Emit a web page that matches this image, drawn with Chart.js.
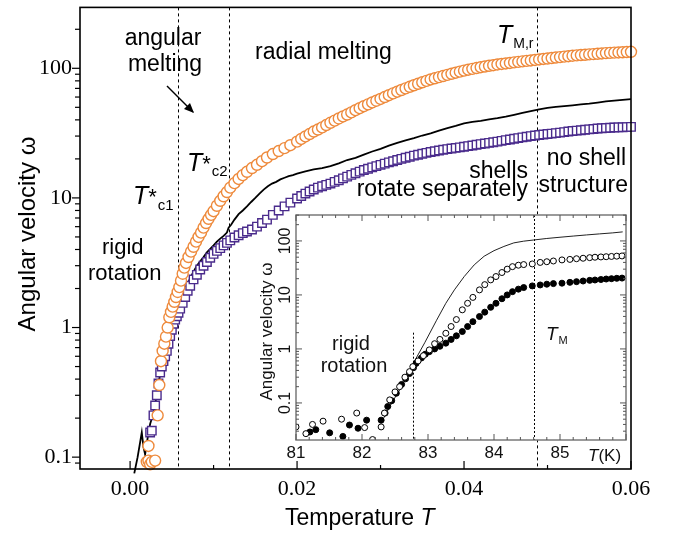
<!DOCTYPE html>
<html>
<head>
<meta charset="utf-8">
<script src="https://cdn.jsdelivr.net/npm/chart.js@4.4.1/dist/chart.umd.min.js"></script>
<style>
  html, body { margin: 0; padding: 0; background: #fff; }
  #wrap { position: relative; width: 674px; height: 533px; }
  #main { position: absolute; left: 0; top: 0; }
  #inset { position: absolute; left: 240px; top: 200px; }
</style>
</head>
<body>
<div id="wrap">
  <canvas id="main" width="674" height="533"></canvas>
  <canvas id="inset" width="400" height="270"></canvas>
</div>
<script>
// ---- main plot data (temperature T, angular velocity) ----
const orangeT = [0.0020, 0.0022, 0.0022, 0.0024, 0.0026, 0.0030, 0.0033, 0.0035, 0.0037, 0.0039,
  0.0041, 0.0043, 0.0045, 0.0047, 0.0049, 0.0051, 0.0053, 0.0055, 0.0057, 0.0059,
  0.0061, 0.0063, 0.0065, 0.0067, 0.0070, 0.0073, 0.0076, 0.0079, 0.0082, 0.0085,
  0.0088, 0.0091, 0.0094, 0.0097, 0.0100, 0.0104, 0.0108, 0.0112, 0.0116, 0.0120,
  0.0125, 0.0130, 0.0135, 0.0140, 0.0146, 0.0152, 0.0158, 0.0164, 0.0171, 0.0178,
  0.0185, 0.0192, 0.0200, 0.0205, 0.0210, 0.0215, 0.0220, 0.0225, 0.0230, 0.0235,
  0.0240, 0.0245, 0.0250, 0.0255, 0.0260, 0.0265, 0.0270, 0.0275, 0.0280, 0.0285,
  0.0290, 0.0295, 0.0300, 0.0305, 0.0310, 0.0315, 0.0320, 0.0325, 0.0330, 0.0335,
  0.0340, 0.0345, 0.0350, 0.0355, 0.0360, 0.0365, 0.0370, 0.0375, 0.0380, 0.0385,
  0.0390, 0.0395, 0.0400, 0.0405, 0.0410, 0.0415, 0.0420, 0.0425, 0.0430, 0.0435,
  0.0440, 0.0445, 0.0450, 0.0455, 0.0460, 0.0465, 0.0470, 0.0475, 0.0480, 0.0485,
  0.0490, 0.0495, 0.0500, 0.0505, 0.0510, 0.0515, 0.0520, 0.0525, 0.0530, 0.0535,
  0.0540, 0.0545, 0.0550, 0.0555, 0.0560, 0.0565, 0.0570, 0.0575, 0.0580, 0.0585,
  0.0590, 0.0595, 0.0600];
const orangeW = [0.092, 0.122, 0.094, 0.088, 0.092, 0.094, 0.21, 0.36, 0.55, 0.66,
  0.75, 0.85, 1.0, 1.2, 1.32, 1.45, 1.58, 1.72, 1.88, 2.05,
  2.3, 2.6, 2.9, 3.15, 3.5, 3.85, 4.2, 4.6, 5.0, 5.4,
  5.9, 6.4, 6.9, 7.4, 7.9, 8.7, 9.5, 10.3, 11.1, 12.0,
  13.0, 14.0, 15.0, 15.9, 17.0, 18.0, 19.2, 20.5, 21.8, 23.0,
  24.2, 25.5, 27.2, 28.5, 29.8, 31.1, 32.5, 33.7, 35.0, 36.5,
  38.0, 39.5, 41.0, 42.5, 44.0, 45.7, 47.5, 49.2, 51.0, 52.7,
  54.5, 56.2, 58.0, 60.0, 62.0, 64.0, 66.0, 68.0, 70.0, 72.0,
  74.0, 76.0, 78.0, 80.0, 82.0, 83.7, 85.5, 87.2, 89.0, 90.7,
  92.5, 94.2, 96.0, 97.5, 99.0, 100.5, 102, 103.2, 104.5, 105.7,
  107, 108, 109, 110, 111, 112, 113, 114, 115, 116,
  117, 118, 119, 120, 121, 122, 123, 124, 125, 125.7,
  126.5, 127.2, 128, 128.7, 129.5, 130.2, 131, 131.5, 132, 132.5,
  133, 133.5, 134];

const purpleT = [0.0024, 0.0026, 0.0028, 0.0030, 0.0032, 0.0034, 0.0036, 0.0038, 0.0040, 0.0042,
  0.0044, 0.0046, 0.0048, 0.0050, 0.0052, 0.0054, 0.0056, 0.0058, 0.0060, 0.0063,
  0.0066, 0.0069, 0.0072, 0.0076, 0.0080, 0.0084, 0.0088, 0.0092, 0.0096, 0.0100,
  0.0104, 0.0108, 0.0112, 0.0116, 0.0120, 0.0125, 0.0130, 0.0135, 0.0140, 0.0146,
  0.0152, 0.0158, 0.0164, 0.0171, 0.0178, 0.0185, 0.0192, 0.0200, 0.0205, 0.0210,
  0.0215, 0.0220, 0.0225, 0.0230, 0.0235, 0.0240, 0.0245, 0.0250, 0.0255, 0.0260,
  0.0265, 0.0270, 0.0275, 0.0280, 0.0285, 0.0290, 0.0295, 0.0300, 0.0305, 0.0310,
  0.0315, 0.0320, 0.0325, 0.0330, 0.0335, 0.0340, 0.0345, 0.0350, 0.0355, 0.0360,
  0.0365, 0.0370, 0.0375, 0.0380, 0.0385, 0.0390, 0.0395, 0.0400, 0.0405, 0.0410,
  0.0415, 0.0420, 0.0425, 0.0430, 0.0435, 0.0440, 0.0445, 0.0450, 0.0455, 0.0460,
  0.0465, 0.0470, 0.0475, 0.0480, 0.0485, 0.0490, 0.0495, 0.0500, 0.0505, 0.0510,
  0.0515, 0.0520, 0.0525, 0.0530, 0.0535, 0.0540, 0.0545, 0.0550, 0.0555, 0.0560,
  0.0565, 0.0570, 0.0575, 0.0580, 0.0585, 0.0590, 0.0595, 0.0600];
const purpleW = [0.155, 0.16, 0.21, 0.25, 0.30, 0.37, 0.45, 0.50, 0.55, 0.60,
  0.66, 0.75, 0.86, 0.96, 1.07, 1.15, 1.22, 1.30, 1.40, 1.55,
  1.72, 1.92, 2.10, 2.35, 2.55, 2.80, 3.0, 3.2, 3.45, 3.7,
  3.9, 4.1, 4.3, 4.5, 4.7, 4.95, 5.15, 5.35, 5.5, 5.7,
  6.0, 6.4, 6.8, 7.4, 8.0, 8.6, 9.2, 9.9, 10.35, 10.8,
  11.2, 11.6, 12.0, 12.3, 12.6, 12.9, 13.3, 13.7, 14.15, 14.6,
  15.05, 15.5, 15.95, 16.4, 16.8, 17.2, 17.6, 18.0, 18.4, 18.8,
  19.2, 19.6, 20.0, 20.4, 20.8, 21.2, 21.55, 21.9, 22.25, 22.6,
  22.9, 23.2, 23.5, 23.8, 24.05, 24.3, 24.55, 24.8, 25.1, 25.4,
  25.7, 26.0, 26.3, 26.6, 26.9, 27.2, 27.55, 27.9, 28.25, 28.6,
  28.95, 29.3, 29.65, 30.0, 30.3, 30.6, 30.85, 31.1, 31.35, 31.6,
  31.9, 32.2, 32.5, 32.8, 33.05, 33.3, 33.55, 33.8, 34.05, 34.3,
  34.45, 34.6, 34.75, 34.9, 35.0, 35.1, 35.2, 35.3];

const blackT = [0.0005, 0.0009, 0.0012, 0.0014, 0.0016, 0.0018, 0.0021, 0.0024, 0.0028, 0.0032,
  0.0036, 0.0040, 0.0044, 0.0048, 0.0052, 0.0056, 0.0060, 0.0064, 0.0068, 0.0072,
  0.0076, 0.0080, 0.0084, 0.0088, 0.0092, 0.0096, 0.0100, 0.0104, 0.0108, 0.0112,
  0.0116, 0.0118, 0.0121, 0.0125, 0.0130, 0.0135, 0.0140, 0.0145, 0.0150, 0.0155,
  0.0160, 0.0165, 0.0170, 0.0175, 0.0180, 0.0185, 0.0190, 0.0195, 0.0200, 0.021,
  0.022, 0.023, 0.024, 0.025, 0.026, 0.027, 0.028, 0.029, 0.030, 0.031,
  0.032, 0.033, 0.034, 0.035, 0.036, 0.037, 0.038, 0.039, 0.040, 0.041,
  0.042, 0.043, 0.044, 0.045, 0.046, 0.047, 0.048, 0.049, 0.050, 0.051,
  0.052, 0.053, 0.054, 0.055, 0.056, 0.057, 0.058, 0.059, 0.060];
const blackW = [0.075, 0.10, 0.13, 0.155, 0.12, 0.105, 0.14, 0.18, 0.22, 0.30,
  0.44, 0.58, 0.72, 0.90, 1.10, 1.30, 1.55, 1.80, 2.10, 2.40,
  2.70, 3.0, 3.25, 3.5, 3.8, 4.05, 4.3, 4.6, 4.85, 5.1,
  5.4, 5.9, 6.2, 6.8, 7.5, 8.0, 8.6, 9.3, 10.0, 10.8,
  11.6, 12.3, 12.9, 13.3, 13.9, 14.3, 14.7, 15.0, 15.4, 16.0,
  16.6, 17.0, 17.6, 18.5, 19.6, 20.4, 21.6, 22.8, 23.9, 25.3,
  26.6, 27.8, 28.9, 30.3, 31.5, 33.0, 34.6, 36.0, 37.6, 38.6,
  39.3, 40.3, 41.2, 42.4, 43.8, 45.3, 46.8, 48.2, 49.5, 50.3,
  51.0, 51.8, 52.6, 53.3, 54.4, 55.5, 56.3, 57.0, 57.8];

const xTicks = [0, 0.02, 0.04, 0.06];
const yTicks = [0.1, 1, 10, 100];
const markerT = [0.0057, 0.0118, 0.0487];   // T*c1, T*c2, T_M,r

// ---- inset data (T in K) ----
const lineK = [82.30, 82.45, 82.60, 82.78, 82.95, 83.13, 83.27, 83.40, 83.55, 83.70,
  83.85, 84.00, 84.15, 84.30, 84.45, 84.60, 84.80, 85.00, 85.20, 85.40,
  85.60, 85.80, 85.95];
const lineW = [0.045, 0.10, 0.20, 0.55, 1.3, 3.4, 7.0, 12.4, 22, 36,
  52, 66, 79, 92, 99, 104, 111, 117, 123, 129,
  135, 141, 147];

const openK = [81.00, 81.15, 81.25, 81.41, 81.69, 81.92, 82.04, 82.16,
  82.29, 82.34, 82.42, 82.50, 82.57, 82.65, 82.72, 82.77, 82.85, 82.93, 83.02, 83.10,
  83.18, 83.27, 83.35, 83.43, 83.52, 83.60, 83.68, 83.78, 83.86, 83.95,
  84.03, 84.12, 84.20, 84.28, 84.37, 84.45, 84.58, 84.70, 84.80, 84.90,
  85.03, 85.15, 85.25, 85.35, 85.45, 85.53, 85.62, 85.70, 85.78, 85.86, 85.94];
const openW = [0.036, 0.027, 0.040, 0.046, 0.050, 0.065, 0.035, 0.021,
  0.036, 0.065, 0.114, 0.16, 0.20, 0.30, 0.38, 0.47, 0.60, 0.75, 0.96, 1.25,
  1.5, 1.95, 2.6, 3.5, 5.3, 7.0, 9.0, 12.4, 15.5, 19,
  21.9, 26, 30, 33.4, 35.5, 36.5, 37.5, 40, 41.2, 42.5,
  44.5, 45.5, 46.8, 47.8, 49, 49.9, 50.5, 51, 51.6, 52.2, 52.7];

const filledK = [81.21, 81.30, 81.51, 81.71, 81.81, 81.94, 82.07,
  82.29, 82.35, 82.39, 82.45, 82.52, 82.60, 82.66, 82.72, 82.78, 82.82, 82.90, 82.96,
  83.02, 83.10, 83.18, 83.27, 83.35, 83.43, 83.52, 83.60, 83.68, 83.78,
  83.86, 83.95, 84.03, 84.12, 84.20, 84.28, 84.37, 84.45, 84.58, 84.70,
  84.80, 84.90, 85.03, 85.15, 85.25, 85.35, 85.45, 85.53, 85.62, 85.70,
  85.78, 85.86, 85.94];
const filledW = [0.029, 0.032, 0.028, 0.024, 0.039, 0.034, 0.048,
  0.048, 0.065, 0.086, 0.11, 0.151, 0.22, 0.28, 0.35, 0.45, 0.54, 0.68, 0.80,
  0.89, 1.0, 1.12, 1.28, 1.5, 1.75, 2.1, 2.6, 3.2, 3.98,
  4.8, 5.9, 7.0, 8.5, 10.0, 11.5, 12.8, 13.7, 14.7, 15.3,
  15.8, 16.2, 16.5, 17.1, 17.6, 18.1, 18.6, 18.9, 19.3, 19.7,
  20.0, 20.3, 20.5];

const insetXTicks = [81, 82, 83, 84, 85];
const insetYTicks = [0.1, 1, 10, 100];
const insetMarkK = [82.78, 84.6];   // rigid rotation end, T_M

const SANS = "'Liberation Sans', Arial, sans-serif";
const SERIF = "'Liberation Serif', 'Times New Roman', serif";

const pts = (xs, ys) => xs.map((x, i) => ({ x: x, y: ys[i] }));

// keep the plot box where it is: no extra room for edge tick labels
function noEdgePad(s) {
  s.paddingTop = 0; s.paddingBottom = 0; s.paddingLeft = 0; s.paddingRight = 0;
}

// draw a run of text pieces (for italic T with subscripts)
function runs(ctx, x, y, parts) {
  parts.forEach(p => {
    ctx.font = p.f;
    ctx.fillText(p.t, x, y + (p.dy || 0));
    x += ctx.measureText(p.t).width + (p.gap || 0);
  });
}

const mainDecor = {
  id: 'mainDecor',
  beforeDatasetsDraw(chart) {
    const { ctx, chartArea: a, scales: { x } } = chart;
    ctx.save();
    ctx.strokeStyle = '#000';
    ctx.lineWidth = 1;
    ctx.setLineDash([3, 3]);
    markerT.forEach(v => {
      const px = Math.round(x.getPixelForValue(v)) + 0.5;
      ctx.beginPath();
      ctx.moveTo(px, a.top);
      ctx.lineTo(px, a.bottom);
      ctx.stroke();
    });
    ctx.restore();
  },
  afterDraw(chart) {
    const { ctx, chartArea: a, scales: { x, y } } = chart;
    ctx.save();
    ctx.strokeStyle = '#000';
    ctx.lineWidth = 1.6;
    ctx.strokeRect(a.left, a.top, a.right - a.left, a.bottom - a.top);

    // x ticks point inward
    ctx.lineWidth = 1.2;
    for (let i = 0; i <= 6; i++) {
      const px = x.getPixelForValue(i * 0.01);
      ctx.beginPath();
      ctx.moveTo(px, a.bottom);
      ctx.lineTo(px, a.bottom - (i % 2 === 0 ? 8 : 4));
      ctx.stroke();
    }
    // y ticks point outward, minor ticks 2..9
    [0.01, 0.1, 1, 10, 100].forEach(d => {
      for (let m = 1; m <= 9; m++) {
        const v = d * m;
        if (v < y.min || v > y.max) continue;
        const py = y.getPixelForValue(v);
        ctx.beginPath();
        ctx.moveTo(a.left, py);
        ctx.lineTo(a.left - (m === 1 ? 8 : 5), py);
        ctx.stroke();
      }
    });

    // axis titles
    ctx.fillStyle = '#000';
    ctx.textBaseline = 'alphabetic';
    ctx.save();
    ctx.translate(35, 234);
    ctx.rotate(-Math.PI / 2);
    ctx.textAlign = 'center';
    ctx.font = '24px ' + SANS;
    ctx.fillText('Angular velocity \u03c9', 0, 0);
    ctx.restore();

    ctx.textAlign = 'left';
    runs(ctx, 285, 525, [
      { t: 'Temperature ', f: '23px ' + SANS },
      { t: 'T', f: 'italic 23px ' + SANS }
    ]);

    // annotations
    const big = '23px ' + SANS;
    ctx.font = big;
    ctx.textAlign = 'center';
    ctx.fillText('angular', 163, 45);
    ctx.fillText('melting', 165, 71);
    ctx.textAlign = 'left';
    ctx.fillText('radial melting', 255, 59);
    ctx.font = '22px ' + SANS;
    ctx.fillText('rigid', 102, 254);
    ctx.fillText('rotation', 88, 280);
    ctx.textAlign = 'right';
    ctx.font = big;
    ctx.fillText('shells', 528, 178);
    ctx.fillText('rotate separately', 528, 196);
    ctx.fillText('no shell', 626, 165);
    ctx.fillText('structure', 628, 192);

    ctx.textAlign = 'left';
    runs(ctx, 133, 204, [
      { t: 'T', f: 'italic 25px ' + SANS },
      { t: '*', f: '22px ' + SANS, gap: 1 },
      { t: 'c1', f: '15px ' + SANS, dy: 6 }
    ]);
    runs(ctx, 187, 171, [
      { t: 'T', f: 'italic 25px ' + SANS },
      { t: '*', f: '22px ' + SANS, gap: 1 },
      { t: 'c2', f: '15px ' + SANS, dy: 5 }
    ]);
    runs(ctx, 497, 43, [
      { t: 'T', f: 'italic 25px ' + SANS, gap: 1 },
      { t: 'M,r', f: '14px ' + SANS, dy: 5 }
    ]);

    // arrow towards the angular-melting region
    ctx.lineWidth = 1.5;
    ctx.beginPath();
    ctx.moveTo(167, 86);
    ctx.lineTo(193, 112);
    ctx.stroke();
    ctx.beginPath();
    ctx.moveTo(194, 113);
    ctx.lineTo(184, 109);
    ctx.lineTo(190, 103);
    ctx.closePath();
    ctx.fillStyle = '#000';
    ctx.fill();
    ctx.restore();
  }
};

new Chart(document.getElementById('main'), {
  type: 'scatter',
  data: {
    datasets: [
      {
        label: 'angular',
        data: pts(orangeT, orangeW),
        showLine: false,
        pointStyle: 'circle',
        pointRadius: 5.5,
        pointBorderWidth: 1.4,
        pointBorderColor: '#EE8A3C',
        pointBackgroundColor: '#fff',
        clip: 8
      },
      {
        label: 'radial',
        data: pts(purpleT, purpleW),
        showLine: false,
        pointStyle: 'rect',
        pointRadius: 6,
        pointBorderWidth: 1.4,
        pointBorderColor: '#4A2B8C',
        pointBackgroundColor: '#fff',
        clip: 8
      },
      {
        label: 'total',
        data: pts(blackT, blackW),
        showLine: true,
        borderColor: '#000',
        borderWidth: 1.8,
        pointRadius: 0,
        clip: 8
      }
    ]
  },
  options: {
    responsive: false,
    animation: false,
    layout: { padding: { left: 0, top: 7, right: 43, bottom: 0 } },
    plugins: { legend: { display: false }, tooltip: { enabled: false } },
    scales: {
      x: {
        type: 'linear',
        min: -0.006,
        max: 0.06,
        grid: { display: false, drawTicks: false },
        border: { display: false },
        afterBuildTicks: s => { s.ticks = xTicks.map(v => ({ value: v })); },
        afterFit: s => { s.height = 64; noEdgePad(s); },
        ticks: {
          padding: 7,
          maxRotation: 0,
          color: '#000',
          font: { family: SERIF, size: 22 },
          callback: v => v.toFixed(2)
        }
      },
      y: {
        type: 'logarithmic',
        bounds: 'data',
        min: 0.081,
        max: 295,
        grid: { display: false, drawTicks: false },
        border: { display: false },
        afterBuildTicks: s => { s.ticks = yTicks.map(v => ({ value: v })); },
        afterFit: s => { s.width = 80; noEdgePad(s); },
        ticks: {
          padding: 8,
          color: '#000',
          font: { family: SERIF, size: 22 },
          callback: v => String(v)
        }
      }
    }
  },
  plugins: [mainDecor]
});

// ---- inset ----
const insetDecor = {
  id: 'insetDecor',
  beforeDraw(chart) {
    const { ctx, chartArea: a } = chart;
    ctx.save();
    ctx.fillStyle = '#fff';
    ctx.fillRect(a.left, a.top, a.right - a.left, a.bottom - a.top);
    ctx.restore();
  },
  beforeDatasetsDraw(chart) {
    const { ctx, chartArea: a, scales: { x, y } } = chart;
    ctx.save();
    ctx.strokeStyle = '#000';
    ctx.lineWidth = 1;
    ctx.setLineDash([2, 2]);
    insetMarkK.forEach((v, i) => {
      const px = Math.round(x.getPixelForValue(v)) + 0.5;
      ctx.beginPath();
      ctx.moveTo(px, i === 0 ? y.getPixelForValue(2) : a.top);
      ctx.lineTo(px, a.bottom);
      ctx.stroke();
    });
    ctx.restore();
  },
  afterDraw(chart) {
    const { ctx, chartArea: a, scales: { x, y } } = chart;
    ctx.save();
    ctx.strokeStyle = '#7a7a7a';
    ctx.lineWidth = 1.5;
    ctx.strokeRect(a.left, a.top, a.right - a.left, a.bottom - a.top);

    ctx.lineWidth = 1;
    ctx.strokeStyle = '#555';
    for (let i = 0; i <= 25; i++) {
      const v = 81 + i * 0.2;
      const px = x.getPixelForValue(v);
      const len = i % 5 === 0 ? 6 : 3;
      ctx.beginPath();
      ctx.moveTo(px, a.bottom); ctx.lineTo(px, a.bottom - len);
      ctx.moveTo(px, a.top); ctx.lineTo(px, a.top + len);
      ctx.stroke();
    }
    [0.01, 0.1, 1, 10, 100].forEach(d => {
      for (let m = 1; m <= 9; m++) {
        const v = d * m;
        if (v < y.min || v > y.max) continue;
        const py = y.getPixelForValue(v);
        const len = m === 1 ? 6 : 3;
        ctx.beginPath();
        ctx.moveTo(a.left, py); ctx.lineTo(a.left + len, py);
        ctx.moveTo(a.right, py); ctx.lineTo(a.right - len, py);
        ctx.stroke();
      }
    });

    // rotated y tick labels and title
    ctx.fillStyle = '#111';
    ctx.textAlign = 'center';
    ctx.textBaseline = 'middle';
    ctx.font = '16px ' + SANS;
    insetYTicks.forEach(v => {
      ctx.save();
      ctx.translate(a.left - 10, y.getPixelForValue(v));
      ctx.rotate(-Math.PI / 2);
      ctx.fillText(String(v), 0, 0);
      ctx.restore();
    });
    ctx.save();
    ctx.translate(27, (a.top + a.bottom) / 2 + 4);
    ctx.rotate(-Math.PI / 2);
    ctx.font = '17px ' + SANS;
    ctx.fillText('Angular velocity \u03c9', 0, 0);
    ctx.restore();

    ctx.textBaseline = 'alphabetic';
    ctx.font = '20px ' + SANS;
    ctx.fillText('rigid', 111, 150);
    ctx.fillText('rotation', 114, 172);
    ctx.textAlign = 'left';
    runs(ctx, 306, 140, [
      { t: 'T', f: 'italic 19px ' + SANS, gap: 1 },
      { t: 'M', f: '11px ' + SANS, dy: 4 }
    ]);
    runs(ctx, 348, 261, [
      { t: 'T', f: 'italic 17px ' + SANS },
      { t: '(K)', f: '17px ' + SANS }
    ]);
    ctx.restore();
  }
};

new Chart(document.getElementById('inset'), {
  type: 'scatter',
  data: {
    datasets: [
      {
        label: 'open',
        data: pts(openK, openW),
        showLine: false,
        pointRadius: 3,
        pointBorderWidth: 1,
        pointBorderColor: '#000',
        pointBackgroundColor: '#fff'
      },
      {
        label: 'filled',
        data: pts(filledK, filledW),
        showLine: false,
        pointRadius: 3,
        pointBorderWidth: 1,
        pointBorderColor: '#000',
        pointBackgroundColor: '#000'
      },
      {
        label: 'line',
        data: pts(lineK, lineW),
        showLine: true,
        borderColor: '#222',
        borderWidth: 1,
        pointRadius: 0
      }
    ]
  },
  options: {
    responsive: false,
    animation: false,
    layout: { padding: { left: 0, top: 15, right: 14, bottom: 0 } },
    plugins: { legend: { display: false }, tooltip: { enabled: false } },
    scales: {
      x: {
        type: 'linear',
        min: 81,
        max: 86,
        grid: { display: false, drawTicks: false },
        border: { display: false },
        afterBuildTicks: s => { s.ticks = insetXTicks.map(v => ({ value: v })); },
        afterFit: s => { s.height = 30; noEdgePad(s); },
        ticks: {
          padding: 3,
          maxRotation: 0,
          color: '#111',
          font: { family: SANS, size: 17 },
          callback: v => String(v)
        }
      },
      y: {
        type: 'logarithmic',
        bounds: 'data',
        min: 0.0206,
        max: 302,
        grid: { display: false, drawTicks: false },
        border: { display: false },
        afterBuildTicks: s => { s.ticks = insetYTicks.map(v => ({ value: v })); },
        afterFit: s => { s.width = 56; noEdgePad(s); },
        ticks: { display: false }
      }
    }
  },
  plugins: [insetDecor]
});
</script>
</body>
</html>
